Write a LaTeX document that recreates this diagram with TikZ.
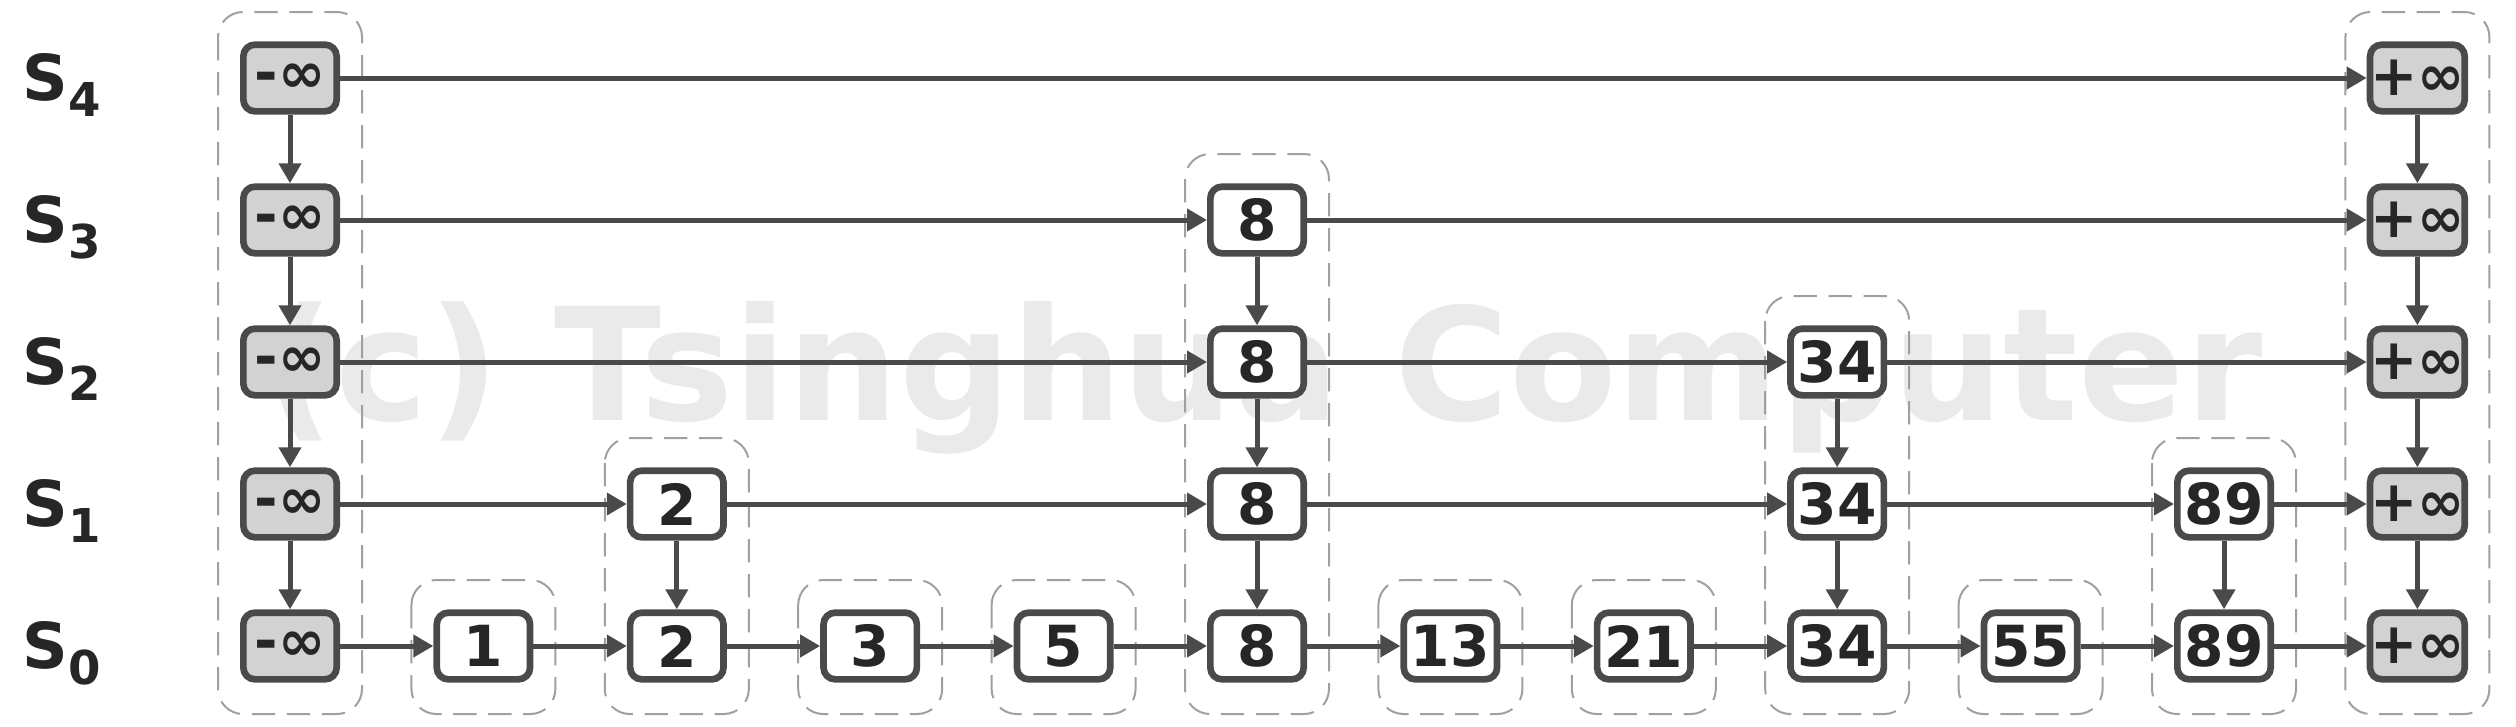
\documentclass[tikz,border=0pt]{standalone}
\usepackage{fontspec}
\setmainfont{DejaVu Sans}
\usetikzlibrary{arrows.meta}
\definecolor{ink}{HTML}{4A4A4A}
\definecolor{infill}{HTML}{D2D2D2}
\definecolor{wm}{HTML}{EAEAEA}
\definecolor{framec}{HTML}{A0A0A0}
\begin{document}
\begin{tikzpicture}[x=0.3pt,y=-0.3pt,
  keybox/.style={draw=ink,line width=2pt,rounded corners=3.5pt,fill=white,
    minimum width=28pt,minimum height=20pt,inner sep=0pt,
    font=\fontsize{17}{17}\selectfont\bfseries,text=black!85},
  infbox/.style={keybox,fill=infill},
  link/.style={draw=ink,line width=1.5pt,-{Triangle[width=6.5pt,length=6pt]}},
  tower/.style={draw=framec,line width=0.6pt,dash pattern=on 7pt off 3.5pt,rounded corners=7.5pt},
  lvl/.style={font=\fontsize{19}{19}\selectfont\bfseries,anchor=base west,inner sep=0pt,text=black!85}]
\useasboundingbox (0,0) rectangle (2516,726);
% watermark
\node[font=\fontsize{47}{47}\selectfont\bfseries,text=wm,anchor=base,inner sep=0pt] (wmark) at (1263,420) {(c) Tsinghua Computer};
% tower outlines
\foreach \c/\h in {0/4,1/0,2/1,3/0,4/0,5/3,6/0,7/0,8/2,9/0,10/1,11/4}{
  \draw[tower] ({290+193.4*\c-72},{646-142*\h-66}) rectangle ({290+193.4*\c+72},714);
}
% key nodes
\foreach \c/\t/\h in {1/1/0,2/2/1,3/3/0,4/5/0,5/8/3,6/13/0,7/21/0,8/34/2,9/55/0,10/89/1}{
  \foreach \l in {0,...,\h}{
    \node[keybox] (n\c-\l) at ({290+193.4*\c},{646-142*\l}) {\t};
  }
}
\foreach \l in {0,...,4}{
  \node[infbox] (n0-\l) at (290,{646-142*\l}) {-∞};
  \node[infbox] (n11-\l) at ({290+193.4*11},{646-142*\l}) {+∞};
}
% horizontal links
\foreach \a/\b in {0/1,1/2,2/3,3/4,4/5,5/6,6/7,7/8,8/9,9/10,10/11}{
  \draw[link] (n\a-0) -- (n\b-0);
}
\foreach \a/\b in {0/2,2/5,5/8,8/10,10/11}{
  \draw[link] (n\a-1) -- (n\b-1);
}
\foreach \a/\b in {0/5,5/8,8/11}{
  \draw[link] (n\a-2) -- (n\b-2);
}
\foreach \a/\b in {0/5,5/11}{
  \draw[link] (n\a-3) -- (n\b-3);
}
\draw[link] (n0-4) -- (n11-4);
% vertical links
\foreach \c/\l in {0/1,0/2,0/3,0/4,11/1,11/2,11/3,11/4,2/1,5/1,5/2,5/3,8/1,8/2,10/1}{
  \pgfmathtruncatemacro{\m}{\l-1}
  \draw[link] (n\c-\l) -- (n\c-\m);
}
% level labels
\foreach \l in {0,...,4}{
  \node[lvl] (s\l) at (22,{646-142*\l+22}) {S\raisebox{-5pt}{\fontsize{14}{14}\selectfont\l}};
}
\end{tikzpicture}
\end{document}
